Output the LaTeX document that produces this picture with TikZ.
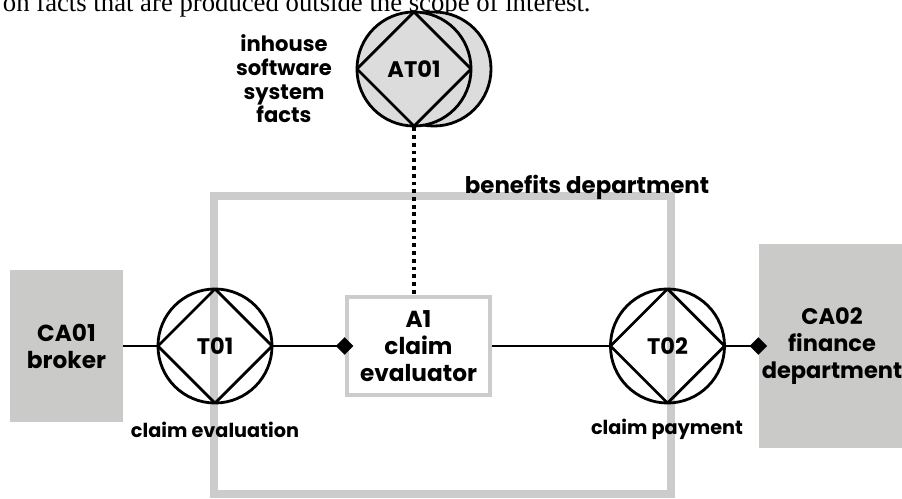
\documentclass[tikz,border=0pt]{standalone}
\usepackage{fontspec}
\setmainfont{Poppins}
\newfontfamily\notefont{Liberation Serif}
\usetikzlibrary{arrows.meta}
\definecolor{boxgray}{HTML}{CACAC8}
\definecolor{linegray}{HTML}{CCCCCC}
\definecolor{fillgray}{HTML}{DCDCDC}
\tikzset{
  actor/.style={rectangle, fill=boxgray, align=center, inner sep=0pt,
    font=\bfseries\fontsize{16.5}{19.2}\selectfont},
  trans/.style={circle, draw, line width=2pt, minimum size=2.85cm, inner sep=0pt,
    font=\bfseries\fontsize{16}{19}\selectfont,
    path picture={\draw[line width=2pt] (path picture bounding box.north)
      -- (path picture bounding box.east) -- (path picture bounding box.south)
      -- (path picture bounding box.west) -- cycle;}},
  label/.style={align=center, font=\bfseries\fontsize{13.7}{16.8}\selectfont},
  conn/.style={line width=1.7pt},
  tip/.style={-{Diamond[length=12.5pt,width=12.5pt]}, shorten >=-6pt}
}
\begin{document}
            \begin{tikzpicture}[x=0.025cm, y=-0.025cm]
            \useasboundingbox (0,0) rectangle (902,499);
            \clip (0,0) rectangle (902,499);
            \node (note) [anchor=base west, font=\notefont\fontsize{19}{22}\selectfont] at (-2,12) {on facts that are produced outside the scope of interest.};
            \node (dept) [draw=linegray, line width=5.7pt, minimum width=11.425cm, minimum height=7.45cm] at (442.5,345) {};
            \node (deptname) [label, font=\bfseries\fontsize{16.3}{19}\selectfont] at (587,187) {benefits department};
            \node (ca01) [actor, minimum width=2.825cm, minimum height=3.8cm] at (66.5,346) {CA01\\broker};
            \node (ca02) [actor, font=\bfseries\fontsize{16}{19.2}\selectfont, minimum width=3.65cm, minimum height=5.075cm] at (832,346) {CA02\\finance\\department};
            \node (a1) [actor, fill=white, draw=linegray, line width=2.8pt, minimum width=3.575cm, minimum height=2.45cm] at (418.5,346) {A1\\claim\\evaluator};
            \node (t01) [trans] at (215,346) {T01};
            \node (t02) [trans] at (667.5,346) {T02};
            \node (at01back) [circle, draw, fill=fillgray, line width=2pt, minimum size=2.85cm] at (434,69) {};
            \node (at01) [trans, fill=fillgray] at (414,69) {AT01};
            \node (t01name) [label] at (215,430) {claim evaluation};
            \node (t02name) [label] at (667,429) {claim payment};
            \node (at01name) [label, font=\bfseries\fontsize{15}{16.8}\selectfont] at (284,79) {inhouse\\software\\system\\facts};
            \draw[conn] (ca01) -- (t01);
            \draw[conn, tip] (t01) -- (a1);
            \draw[conn] (a1) -- (t02);
            \draw[conn, tip] (t02) -- (ca02);
            \draw[line width=2.7pt, dash pattern=on 2.7pt off 2.8pt] (at01) -- (at01 |- a1.north);
            \end{tikzpicture}
\end{document}
